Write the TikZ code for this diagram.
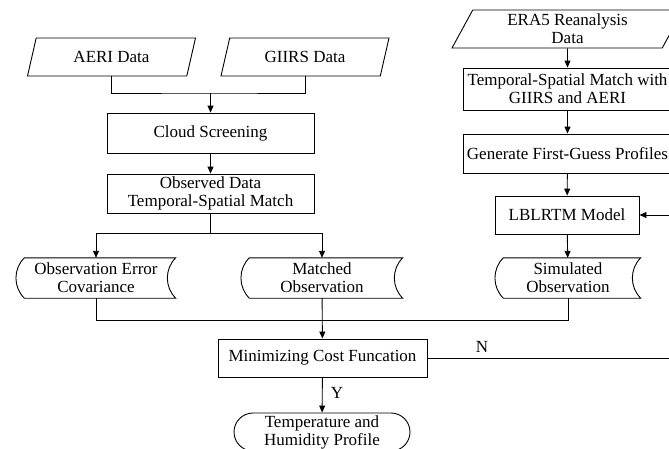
\documentclass[tikz,border=0pt]{standalone}
\usepackage{fontspec}
\setmainfont{Liberation Serif}
\usetikzlibrary{shapes.geometric, shapes.misc, arrows.meta, positioning, calc}
\definecolor{FlowLine}{HTML}{000000}
\definecolor{FlowWhite}{HTML}{FFFFFF}
\newcommand{\flowfont}{\fontsize{17}{18}\selectfont}
\tikzset{
    databox/.style={
        draw=FlowLine,
        line width=0.9pt,
        trapezium,
        trapezium left angle=57,
        trapezium right angle=123,
        trapezium stretches body,
        minimum width=#1,
        minimum height=38pt,
        inner sep=1pt,
        text=FlowLine,
        font=\flowfont,
        align=center
    },
    databox/.default=168pt,
    procbox/.style={
        draw=FlowLine,
        line width=0.9pt,
        fill=FlowWhite,
        minimum width=#1,
        minimum height=40pt,
        inner sep=2pt,
        text=FlowLine,
        font=\flowfont,
        align=center
    },
    procbox/.default=207pt,
    storebox/.style={
        minimum width=#1,
        minimum height=40pt,
        inner sep=2pt,
        text=FlowLine,
        font=\flowfont,
        align=center
    },
    storebox/.default=151pt,
    endbox/.style={
        draw=FlowLine,
        line width=0.9pt,
        rounded rectangle,
        minimum width=180pt,
        minimum height=38pt,
        inner sep=2pt,
        text=FlowLine,
        font=\flowfont,
        align=center
    },
    line/.style={
        line width=0.9pt,
        FlowLine
    },
    arrow/.style={
        -{Triangle[length=7pt,width=6pt]},
        line width=0.9pt,
        FlowLine
    },
    flag/.style={
        text=FlowLine,
        font=\flowfont
    }
}

\begin{document}
\begin{tikzpicture}[x=1pt, y=-1pt]
        \useasboundingbox (0,0) rectangle (669,448);
        \clip (0,0) rectangle (669,448);

        % Input data
        \node[databox] (aeri) at (111.5,57) {AERI Data};
        \node[databox] (giirs) at (305,57) {GIIRS Data};
        \node[databox=231pt] (era5) at (567.5,29) {ERA5 Reanalysis\\Data};

        % Observation branch
        \node[procbox] (cloud) at (210.5,133) {Cloud Screening};
        \node[procbox, minimum height=39pt] (obsmatch) at (210.5,193.5) {Observed Data\\Temporal-Spatial Match};

        % Simulation branch
        \node[procbox=209pt, minimum height=42pt] (tsmatch) at (567.5,89) {Temporal-Spatial Match with\\GIIRS and AERI};
        \node[procbox=209pt, minimum height=39pt] (firstguess) at (567.5,153.5) {Generate First-Guess Profiles};
        \node[procbox=144pt, minimum height=38pt] (lblrtm) at (567,215) {LBLRTM Model};

        % Stored data
        \node[storebox] (errcov) at (96,278) {Observation Error\\Covariance};
        \node[storebox=153pt] (matched) at (322,278) {Matched\\Observation};
        \node[storebox=137pt] (simobs) at (568,278) {Simulated\\Observation};
        \foreach \n in {errcov,matched,simobs}
            \draw[line] ([xshift=4pt]\n.north west) to[bend right=45] ([xshift=4pt]\n.south west)
                -- ([xshift=4pt]\n.south east) to[bend left=45] ([xshift=4pt]\n.north east) -- cycle;

        % Retrieval
        \node[procbox=209pt, minimum height=38pt] (mincost) at (322.5,358) {Minimizing Cost Funcation};
        \node[endbox] (result) at (322,432) {Temperature and\\Humidity Profile};

        % Joints
        \coordinate (merge) at (210.5,93);
        \coordinate (split) at (210.5,233);
        \coordinate (collect) at (322,320);
        \coordinate (loop) at (676,0);

        % Arrows
        \draw[line] (aeri.south) |- (merge) -| (giirs.south);
        \draw[arrow] (merge) -- (cloud);
        \draw[arrow] (cloud) -- (obsmatch);
        \draw[line] (obsmatch) -- (split);
        \draw[arrow] (split) -| (errcov);
        \draw[arrow] (split) -| (matched);
        \draw[arrow] (era5) -- (tsmatch);
        \draw[arrow] (tsmatch) -- (firstguess);
        \draw[arrow] (firstguess) -- (lblrtm);
        \draw[arrow] (lblrtm) -- (simobs);
        \draw[line] (errcov) |- (collect);
        \draw[line] (simobs) |- (collect);
        \draw[arrow] (matched) -- (mincost);
        \draw[arrow] (mincost) -- (result);
        \draw[arrow] (mincost) -- (mincost -| loop) |- (lblrtm);

        % Branch labels
        \node[flag] (yes) at (337,393) {Y};
        \node[flag] (no) at (482,347) {N};
    \end{tikzpicture}
\end{document}
